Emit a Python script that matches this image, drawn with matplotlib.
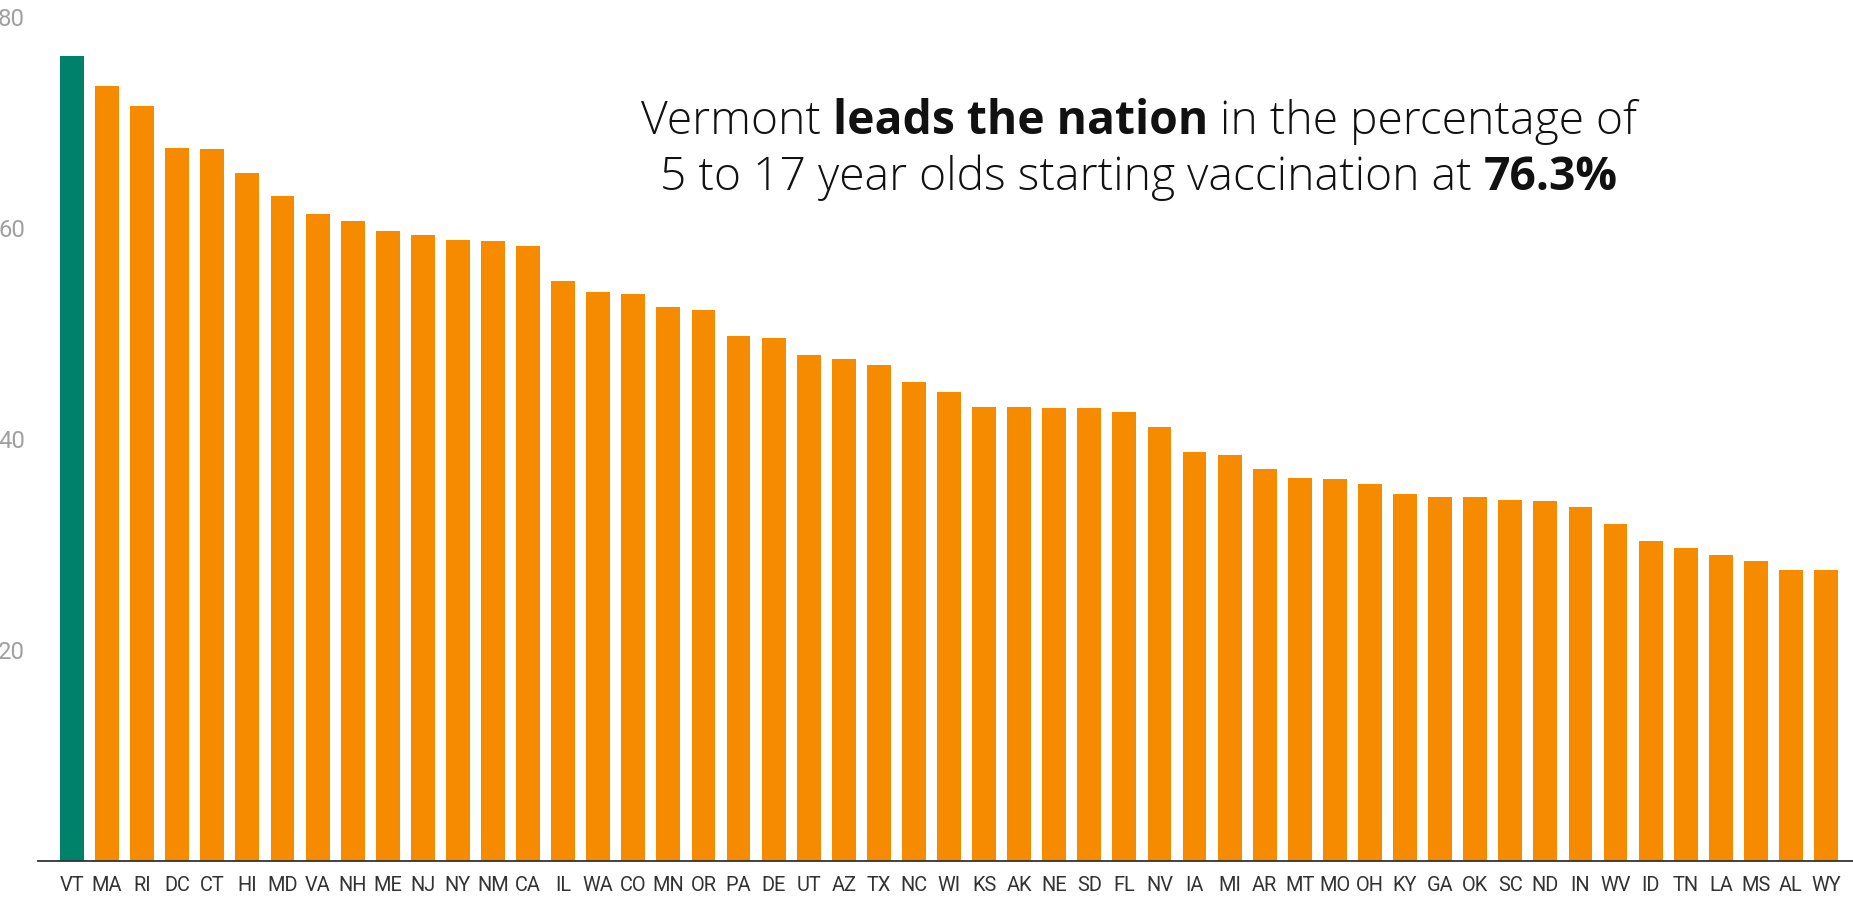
import matplotlib
matplotlib.use('Agg')
import matplotlib.pyplot as plt
from matplotlib.transforms import IdentityTransform
import numpy as np

# ---- data ----
states = ['VT', 'MA', 'RI', 'DC', 'CT', 'HI', 'MD', 'VA', 'NH', 'ME', 'NJ', 'NY', 'NM',
          'CA', 'IL', 'WA', 'CO', 'MN', 'OR', 'PA', 'DE', 'UT', 'AZ', 'TX', 'NC', 'WI',
          'KS', 'AK', 'NE', 'SD', 'FL', 'NV', 'IA', 'MI', 'AR', 'MT', 'MO', 'OH', 'KY',
          'GA', 'OK', 'SC', 'ND', 'IN', 'WV', 'ID', 'TN', 'LA', 'MS', 'AL', 'WY']
values = [76.3, 73.5, 71.6, 67.6, 67.5, 65.2, 63.0, 61.3, 60.7, 59.7, 59.3, 58.9, 58.8,
          58.3, 55.0, 53.9, 53.7, 52.5, 52.2, 49.8, 49.6, 48.0, 47.6, 47.0, 45.4, 44.5,
          43.0, 43.0, 42.9, 42.9, 42.6, 41.1, 38.8, 38.5, 37.2, 36.3, 36.2, 35.7, 34.8,
          34.5, 34.5, 34.2, 34.1, 33.6, 31.9, 30.3, 29.7, 29.0, 28.4, 27.6, 27.6]
highlight = 'VT'
yticks = [20, 40, 60, 80]

line1 = [("Vermont", False), ("leads the nation", True), ("in the percentage of", False)]
line2 = [("5 to 17 year olds starting vaccination at", False), ("76.3%", True)]

GREEN = '#00816A'
ORANGE = '#F78B00'

W, H = 1853, 897
fig = plt.figure(figsize=(W / 100, H / 100), dpi=100)
ax = fig.add_axes([38 / W, (H - 861) / H, 1 - 38 / W, (861 - 17) / H])

x = np.arange(len(states))
colors = [GREEN if s == highlight else ORANGE for s in states]
ax.bar(x, values, width=0.68, color=colors, zorder=2)
ax.set_xlim(-0.97, len(states) - 1 + 0.77)
ax.set_ylim(0, 80)
ax.set_yticks(yticks)
ax.set_yticklabels([str(t) for t in yticks])
ax.set_xticks(x)
ax.set_xticklabels(states)
for sp in ['top', 'right', 'left']:
    ax.spines[sp].set_visible(False)
ax.spines['bottom'].set_color('#333333')
ax.spines['bottom'].set_linewidth(1.3)
ax.spines['bottom'].set_zorder(3)
ax.tick_params(axis='x', length=0, pad=11, labelsize=14.4, labelcolor='#333333')
ax.tick_params(axis='y', length=0, pad=9.4, labelsize=17.2, labelcolor='#a0a0a0')
for lab in ax.get_xticklabels() + ax.get_yticklabels():
    lab.set_fontfamily(['Roboto', 'DejaVu Sans'])

# ---- annotation made of regular / bold runs ----
ANN_FONT = ['Open Sans', 'DejaVu Sans']
ANN_SIZE = 33.3
fig.canvas.draw()
renderer = fig.canvas.get_renderer()

def text_width(s, bold):
    t = fig.text(0, 0, s, fontsize=ANN_SIZE, family=ANN_FONT,
                 fontweight='bold' if bold else 300, transform=IdentityTransform())
    w = t.get_window_extent(renderer).width
    t.remove()
    return w

space_w = text_width("l l", False) - text_width("ll", False)

def draw_line(runs, cx, y):
    widths = [text_width(s, b) for s, b in runs]
    total = sum(widths) + space_w * (len(runs) - 1)
    xpos = cx - total / 2
    for (s, b), w in zip(runs, widths):
        fig.text(xpos, y, s, fontsize=ANN_SIZE, family=ANN_FONT,
                 fontweight='bold' if b else 300, color='#111111',
                 ha='left', va='baseline', transform=IdentityTransform())
        xpos += w + space_w

draw_line(line1, 1139, H - 134)
draw_line(line2, 1139, H - 190)

fig.savefig('out.png', dpi=100, facecolor='white')
